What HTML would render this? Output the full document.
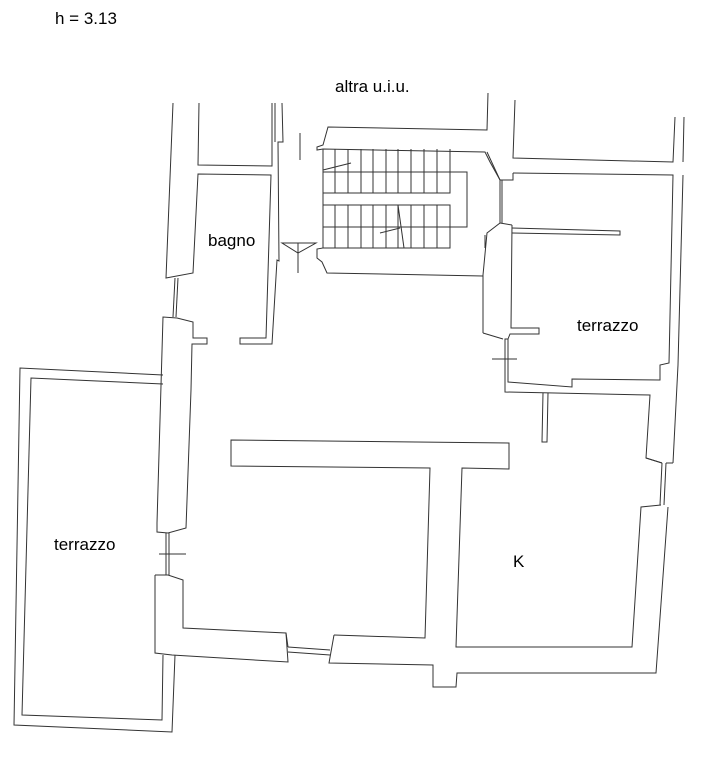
<!DOCTYPE html>
<html><head><meta charset="utf-8"><style>
html,body{margin:0;padding:0;background:#fff;width:721px;height:773px;overflow:hidden}
svg{position:absolute;left:0;top:0}
text{font-family:"Liberation Sans",Arial,sans-serif;font-size:17px;fill:#000}
</style></head><body>
<svg width="721" height="773" viewBox="0 0 721 773" fill="none" stroke="#333" stroke-width="1">
<text x="55" y="24" stroke="none">h = 3.13</text>
<text x="335" y="92" stroke="none">altra u.i.u.</text>
<text x="208" y="246" stroke="none">bagno</text>
<text x="577" y="331" stroke="none">terrazzo</text>
<text x="54" y="550" stroke="none">terrazzo</text>
<text x="513" y="567" stroke="none">K</text>

<polyline points="173,103 166,278 193,273 198,174 271,175 266,338 240,338 240,344 272,344 277,260 279,261 278,142 283,142 282,103"/>
<polyline points="199,103 198,165 272,166 272,103"/>
<polyline points="275,103 275,142"/>
<line x1="175" y1="278" x2="173" y2="317"/><line x1="178" y1="278" x2="176" y2="317"/>
<polyline points="191,390 192,344 207,344 207,338 193,338 193,322 177,318 163,317 157,523 157,532 168,533 186,528 191,390"/>
<line x1="300" y1="133" x2="300" y2="160"/>
<polygon points="282,243 316,243 298,253"/>
<line x1="298" y1="243" x2="298" y2="273"/>

<polyline points="488,93 487,130 328,127 323,145 317,147 317,150 323,149 485,152 490,162 500,180 500,223 487,233 483,275 483,333"/>
<polyline points="323,149 323,248 317,249 317,258 322,262 327,273 483,276"/>
<polyline points="323,248 450,248 450,205 323,205"/>
<polyline points="323,193 450,193 450,149"/>
<polyline points="450,172 467,172 467,227 450,227"/>
<line x1="323" y1="172" x2="450" y2="172"/>
<line x1="323" y1="227" x2="450" y2="227"/>
<g>
<line x1="335" y1="149" x2="335" y2="193"/><line x1="348" y1="149" x2="348" y2="193"/><line x1="361" y1="149" x2="361" y2="193"/><line x1="373" y1="149" x2="373" y2="193"/><line x1="386" y1="149" x2="386" y2="193"/><line x1="398" y1="149" x2="398" y2="193"/><line x1="411" y1="149" x2="411" y2="193"/><line x1="424" y1="149" x2="424" y2="193"/><line x1="437" y1="149" x2="437" y2="193"/>
<line x1="335" y1="205" x2="335" y2="248"/><line x1="348" y1="205" x2="348" y2="248"/><line x1="361" y1="205" x2="361" y2="248"/><line x1="373" y1="205" x2="373" y2="248"/><line x1="386" y1="205" x2="386" y2="248"/><line x1="398" y1="205" x2="398" y2="248"/><line x1="411" y1="205" x2="411" y2="248"/><line x1="424" y1="205" x2="424" y2="248"/><line x1="437" y1="205" x2="437" y2="248"/>
</g>
<line x1="323" y1="170" x2="351" y2="163"/>
<line x1="380" y1="233" x2="400" y2="228"/>
<line x1="398" y1="205" x2="404" y2="248"/>

<polyline points="515,100 513,158 673,162 675,117"/>
<polyline points="684,117 683,162"/>
<polyline points="513,173 673,175 669,363 660,365 660,380 572,379 572,387 508,382 508,339 505,339 505,392 650,395 646,458 662,463"/>
<polyline points="683,175 678,365 673,463"/>
<polyline points="487,152 500,180 513,180 513,173"/>
<line x1="502" y1="180" x2="502" y2="223"/>
<polyline points="485,235 485,248"/>
<polyline points="512,225 511,328 539,328 539,334 510,334 508,339"/>
<polyline points="500,223 512,225"/>
<polyline points="512,228 620,231 620,235 512,233"/>
<line x1="492" y1="359" x2="517" y2="359"/>
<polyline points="483,333 503,339"/>
<polyline points="543,393 542,442 547,442 548,393"/>

<polyline points="163,375 20,368 14,725 172,732 175,655"/>
<polyline points="163,384 31,378 22,715 162,720 163,655"/>
<line x1="166" y1="533" x2="166" y2="575"/><line x1="169" y1="533" x2="169" y2="575"/>
<line x1="159" y1="554" x2="186" y2="554"/>

<polyline points="155,575 168,575 183,580 183,628 286,633 288,662 172,655 155,653 155,575"/>
<line x1="288" y1="647" x2="330" y2="650"/><line x1="288" y1="652" x2="330" y2="655"/>
<polyline points="288,647 286,633"/>
<polyline points="334,635 425,638 430,468 231,466 231,440 509,443 509,469 462,468 456,647 632,647 641,507 661,505"/>
<polyline points="334,635 329,663 433,665 433,687 456,687 457,673 656,673 668,507"/>
<line x1="660" y1="505" x2="662" y2="463"/><line x1="664" y1="505" x2="666" y2="463"/>
<polyline points="646,458 662,463"/>
<polyline points="666,463 673,463"/>
</svg>
</body></html>
